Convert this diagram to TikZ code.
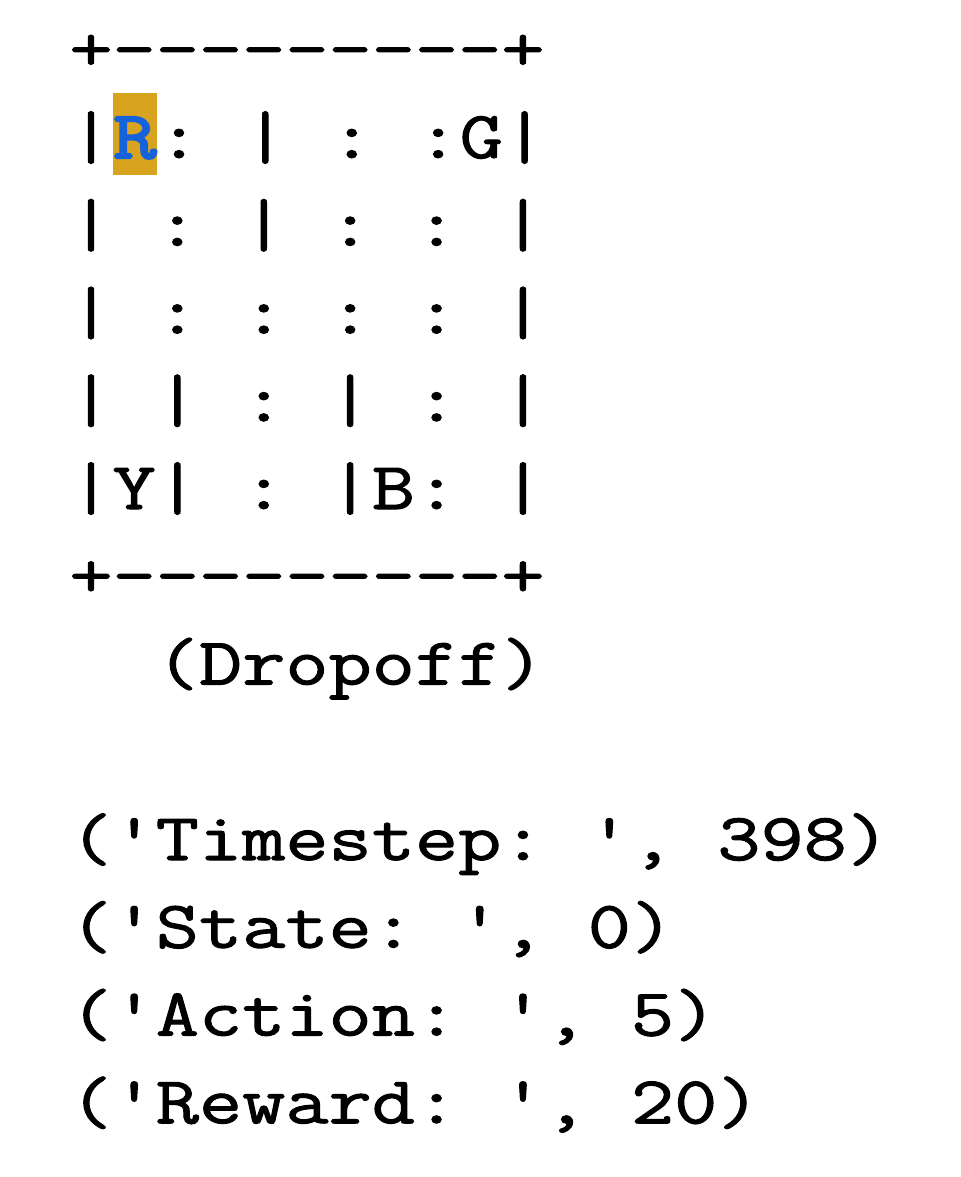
\documentclass[tikz,border=0pt]{standalone}
\usepackage{fontspec}
\setmonofont{Latin Modern Mono}[FakeStretch=1.25, FakeBold=1.5]
\newfontfamily\taxifont{Latin Modern Mono}[FakeStretch=1.25, FakeBold=3.5]
\usepackage{tikz}
\usepackage{xcolor}
\definecolor{taxigold}{RGB}{216, 164, 32}
\definecolor{taxiblue}{RGB}{22, 98, 218}
\tikzstyle{termline} = [anchor=base west, inner sep=0pt, font=\ttfamily\fontsize{33.55pt}{40pt}\selectfont]
\tikzstyle{taxicell} = [termline, fill=taxigold, text=taxiblue, text height=32.5pt, text depth=8.5pt, font=\taxifont\fontsize{33.55pt}{40pt}\selectfont]

\begin{document}
\begin{tikzpicture}[x=0.5pt, y=-0.5pt]
                \useasboundingbox (0,0) rectangle (960,1177);
                % the map
                \node[termline] (top) at (69,70.25) {+---------+};
                \node[termline] (row1a) at (69,158) {|};
                \node[taxicell] (taxi) at (row1a.base east) {R};
                \node[termline] (row1b) at (taxi.base east) {:~|~:~:G|};
                \node[termline] (row2) at (69,245.75) {|~:~|~:~:~|};
                \node[termline] (row3) at (69,333.5) {|~:~:~:~:~|};
                \node[termline] (row4) at (69,421.25) {|~|~:~|~:~|};
                \node[termline] (row5) at (69,509) {|Y|~:~|B:~|};
                \node[termline] (bottom) at (69,596.75) {+---------+};
                \node[termline] (pass) at (69,684.5) {~~(Dropoff)};
                
                % the printed values
                \node[termline] (timestep) at (69,860) {('Timestep:~',~398)};
                \node[termline] (state) at (69,947.75) {('State:~',~0)};
                \node[termline] (action) at (69,1035.5) {('Action:~',~5)};
                \node[termline] (reward) at (69,1123.25) {('Reward:~',~20)};
            \end{tikzpicture}
\end{document}
